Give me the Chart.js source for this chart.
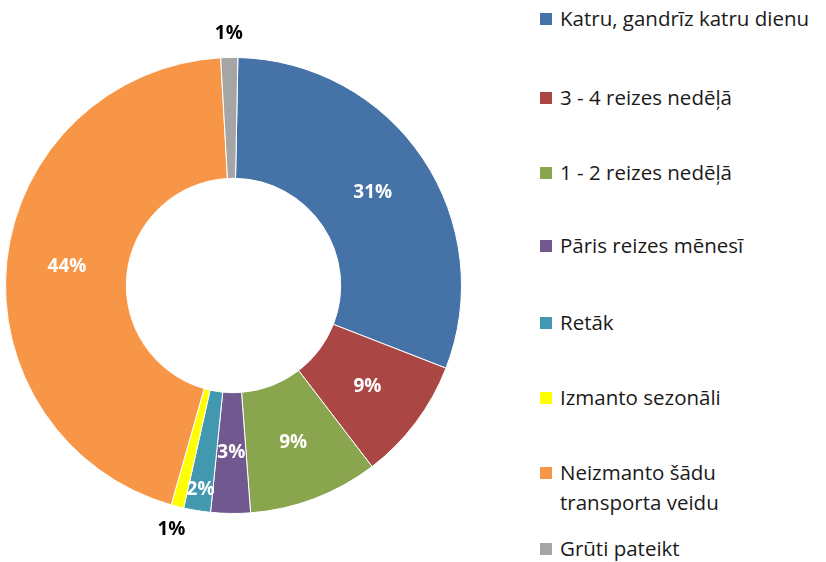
<!DOCTYPE html>
<html lang="lv">
<head>
<meta charset="UTF-8">
<title>Doughnut</title>
<script src="https://cdn.jsdelivr.net/npm/chart.js"></script>
<style>
    body { margin: 0; background: #fff; font-family: "Open Sans", Lato, sans-serif; }
    #wrap { position: relative; width: 826px; height: 562px; }
    #chartBox { position: absolute; left: 0; top: 0; width: 467px; height: 562px; }
    #legend { position: absolute; left: 540px; top: 0; width: 286px; }
    .item { position: absolute; left: 0; display: flex; align-items: flex-start; font-size: 20.5px; line-height: 30px; color: #1a1a1a; white-space: nowrap; }
    .sw { width: 12px; height: 12px; margin: 10px 8px 0 0; flex: none; }
</style>
</head>
<body>
<div id="wrap">
    <div id="chartBox"><canvas id="c"></canvas></div>
    <div id="legend"></div>
</div>
<script>
    const categories = [
        "Katru, gandrīz katru dienu",
        "3 - 4 reizes nedēļā",
        "1 - 2 reizes nedēļā",
        "Pāris reizes mēnesī",
        "Retāk",
        "Izmanto sezonāli",
        "Neizmanto šādu\ntransporta veidu",
        "Grūti pateikt"
    ];
    // shares as measured from the slice angles
    const values = [30.6, 8.7, 9.2, 2.8, 1.9, 0.9, 44.7, 1.2];
    // percentages printed on the chart
    const pctText = ["31%", "9%", "9%", "3%", "2%", "1%", "44%", "1%"];
    const colors = ["#4572A7", "#AA4643", "#89A54E", "#71588F", "#4198AF", "#FFFF00", "#F79646", "#A5A5A5"];

    // legend rows (top of each row, px)
    const legendTops = [3, 82, 157, 230, 307, 382, 457, 533];
    const legend = document.getElementById('legend');
    categories.forEach((name, i) => {
        const row = document.createElement('div');
        row.className = 'item';
        row.style.top = legendTops[i] + 'px';
        row.innerHTML = `<span class="sw" style="background:${colors[i]}"></span><span>${name.replace('\n', '<br>')}</span>`;
        legend.appendChild(row);
    });

    // where each label sits between inner (0) and outer (1) radius; >1 means outside
    const labelPos = [0.5, 0.5, 0.5, 0.5, 0.82, 1.2, 0.5, 1.2];

    const pctLabels = {
        id: 'pctLabels',
        afterDatasetsDraw(chart) {
            const ctx = chart.ctx;
            const meta = chart.getDatasetMeta(0);
            ctx.save();
            ctx.textAlign = 'center';
            ctx.textBaseline = 'middle';
            ctx.font = 'bold 19px "Open Sans", Lato, sans-serif';
            meta.data.forEach((arc, i) => {
                const mid = (arc.startAngle + arc.endAngle) / 2;
                const f = labelPos[i];
                const r = arc.innerRadius + (arc.outerRadius - arc.innerRadius) * f;
                ctx.fillStyle = f > 1 ? '#000' : '#fff';
                ctx.fillText(pctText[i], arc.x + Math.cos(mid) * r, arc.y + Math.sin(mid) * r);
            });
            ctx.restore();
        }
    };

    new Chart(document.getElementById('c'), {
        type: 'doughnut',
        data: {
            labels: categories,
            datasets: [{
                data: values,
                backgroundColor: colors,
                borderColor: '#ffffff',
                borderWidth: 1
            }]
        },
        options: {
            responsive: true,
            maintainAspectRatio: false,
            animation: false,
            cutout: '47%',
            rotation: 1.1,
            layout: { padding: { left: 5, right: 5, top: 57, bottom: 48 } },
            plugins: {
                legend: { display: false },
                tooltip: { enabled: false }
            }
        },
        plugins: [pctLabels]
    });
</script>
</body>
</html>
